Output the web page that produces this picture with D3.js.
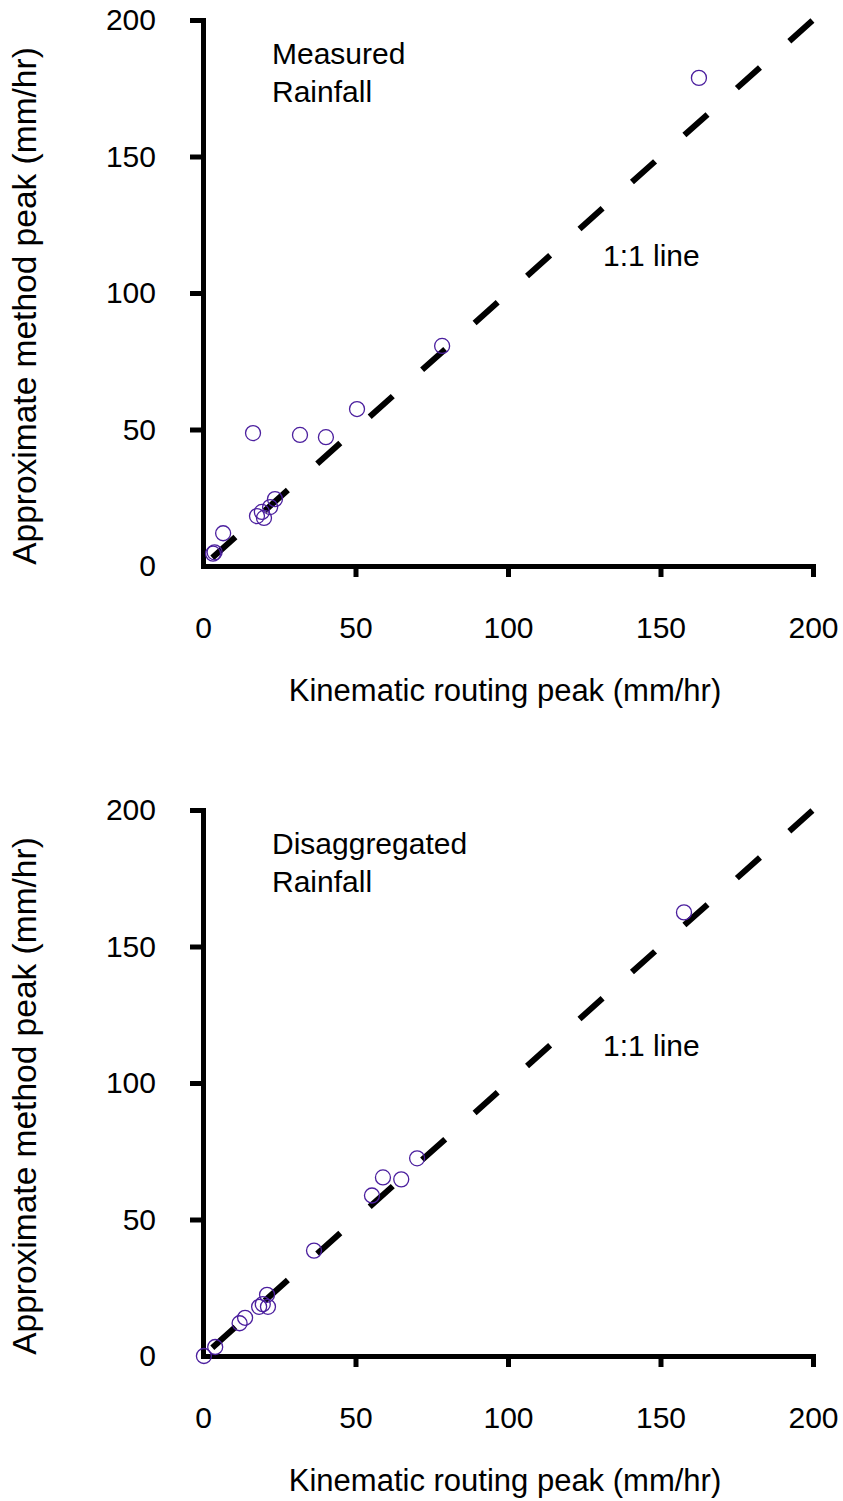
<!DOCTYPE html>
<html>
<head>
<meta charset="utf-8">
<script src="https://cdn.jsdelivr.net/npm/d3@7"></script>
<style>
  body { margin: 0; background: #fff; }
  text { font-family: Arial, "Liberation Sans", sans-serif; fill: #000; }
</style>
</head>
<body>
<div id="my_dataviz"></div>
<script>
// data (kinematic peak, approximate peak)
var measuredX = [3.3, 3.8, 6.6, 16.4, 31.8, 40.3, 50.5, 78.4, 17.7, 20.0, 19.3, 22.0, 23.6, 162.6];
var measuredY = [4.5, 5.0, 12.0, 48.7, 48.0, 47.2, 57.5, 80.6, 18.3, 17.6, 19.8, 21.6, 24.5, 178.8];

var disaggX = [0.3, 4.0, 12.0, 13.8, 18.4, 19.6, 21.3, 21.0, 36.4, 55.4, 59.0, 65.0, 70.2, 157.7];
var disaggY = [0.0, 3.3, 12.0, 14.0, 18.0, 19.0, 18.0, 22.4, 38.6, 58.8, 65.4, 64.7, 72.4, 162.5];

var tickValues = [0, 50, 100, 150, 200];
var panelLabels = [["Measured", "Rainfall"], ["Disaggregated", "Rainfall"]];
var xTitle = "Kinematic routing peak (mm/hr)";
var yTitle = "Approximate method peak (mm/hr)";

var svg = d3.select("#my_dataviz")
  .append("svg")
    .attr("width", 843)
    .attr("height", 1501);

// one panel = plot box 203..813 x 20..566, shifted down for the second one
function drawPanel(xs, ys, label, offset) {
  var g = svg.append("g")
    .attr("transform", "translate(0," + offset + ")");

  var x = d3.scaleLinear().domain([0, 200]).range([203, 813]);
  var y = d3.scaleLinear().domain([0, 200]).range([566, 20]);

  // X axis
  var xAxis = g.append("g")
    .attr("transform", "translate(0," + y(0) + ")")
    .call(d3.axisBottom(x).tickValues(tickValues).tickSize(11).tickSizeOuter(0).tickPadding(40));
  // Y axis
  var yAxis = g.append("g")
    .attr("transform", "translate(" + x(0) + ",0)")
    .call(d3.axisLeft(y).tickValues(tickValues).tickSize(13).tickSizeOuter(0).tickPadding(34));

  [xAxis, yAxis].forEach(function(a) {
    a.select(".domain").attr("stroke", "#000").attr("stroke-width", 5).attr("stroke-linecap", "square");
    a.selectAll(".tick line").attr("stroke", "#000").attr("stroke-width", 5);
    a.selectAll(".tick line").filter(function(d) { return d === 0; }).remove();
    a.selectAll(".tick text")
      .style("font-size", "30px")
      .style("font-family", "Arial, 'Liberation Sans', sans-serif")
      .attr("fill", "#000");
  });

  // 1:1 line
  g.append("line")
    .attr("x1", x(0))
    .attr("y1", y(0))
    .attr("x2", x(200))
    .attr("y2", y(200))
    .attr("stroke", "#000")
    .attr("stroke-width", 6)
    .attr("stroke-dasharray", "31,39.4")
    .attr("stroke-dashoffset", 57.9);

  // points
  g.append("g")
    .selectAll("circle")
    .data(xs)
    .enter()
    .append("circle")
      .attr("cx", function(d) { return x(d); })
      .attr("cy", function(d, i) { return y(ys[i]); })
      .attr("r", 7.5)
      .attr("fill", "none")
      .attr("stroke", "#4b1f9e")
      .attr("stroke-width", 1.3);

  // panel label
  g.append("text")
    .attr("x", 272)
    .attr("y", 64)
    .style("font-size", "30px")
    .text(label[0]);
  g.append("text")
    .attr("x", 272)
    .attr("y", 102)
    .style("font-size", "30px")
    .text(label[1]);

  g.append("text")
    .attr("x", 603)
    .attr("y", 266)
    .style("font-size", "30px")
    .text("1:1 line");

  // axis titles
  g.append("text")
    .attr("x", 505)
    .attr("y", 701)
    .attr("text-anchor", "middle")
    .style("font-size", "31px")
    .text(xTitle);

  g.append("text")
    .attr("transform", "rotate(-90)")
    .attr("x", -306)
    .attr("y", 36)
    .attr("text-anchor", "middle")
    .style("font-size", "33.5px")
    .text(yTitle);
}

drawPanel(measuredX, measuredY, panelLabels[0], 0);
drawPanel(disaggX, disaggY, panelLabels[1], 790);
</script>
</body>
</html>
